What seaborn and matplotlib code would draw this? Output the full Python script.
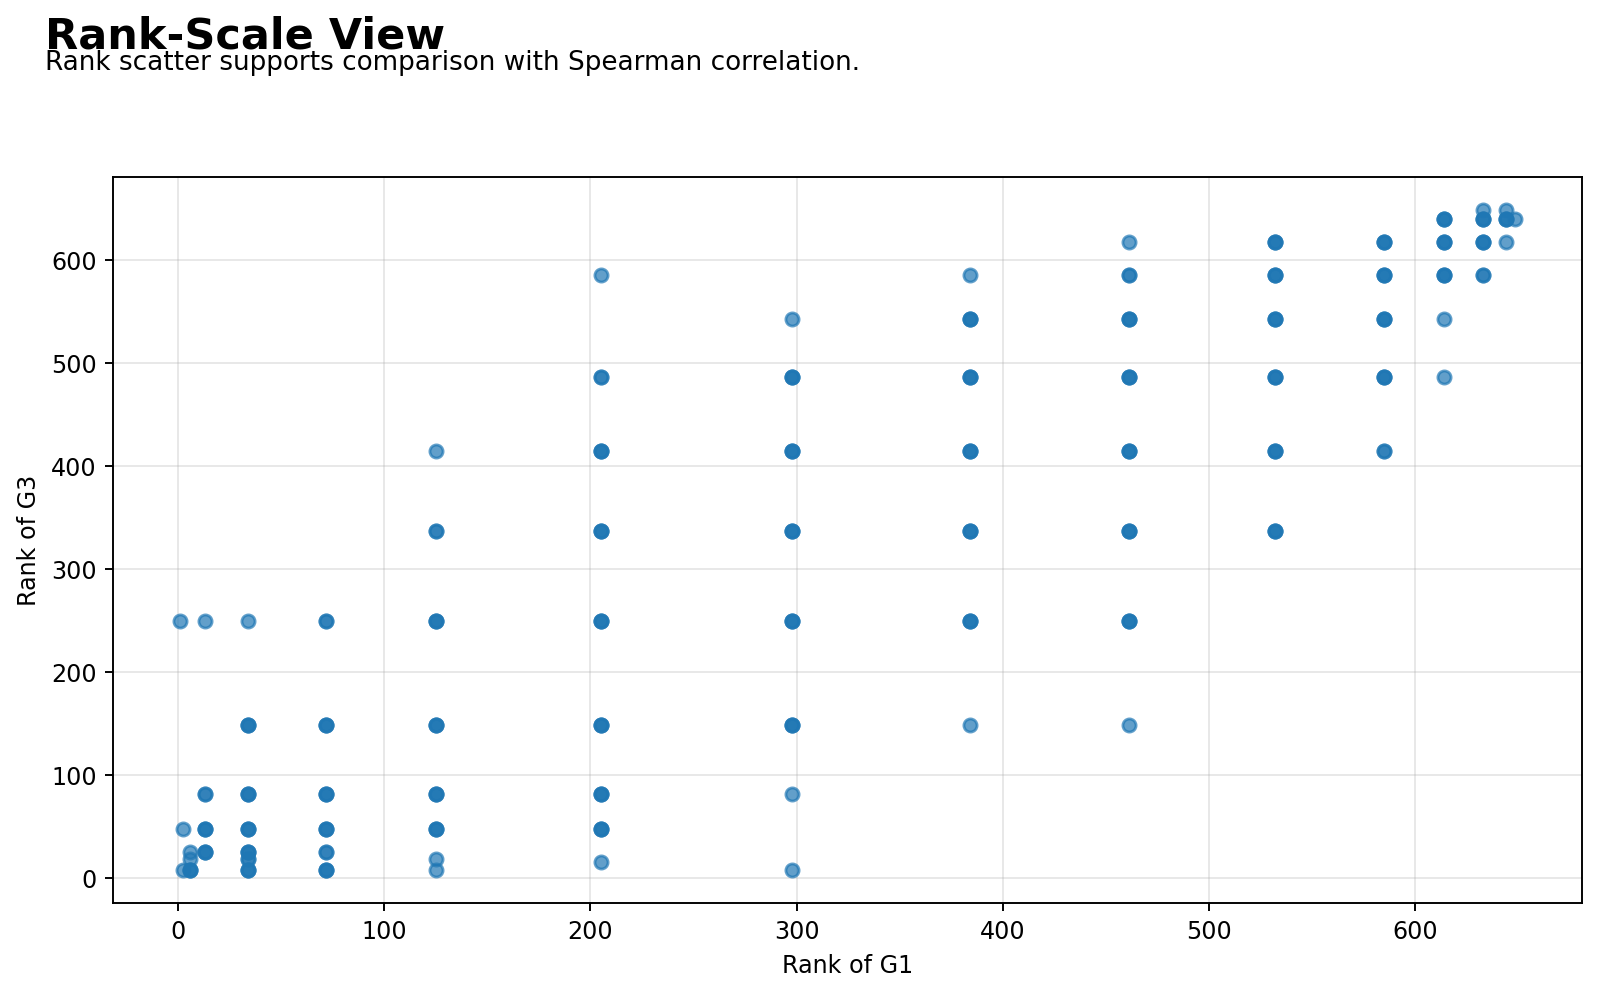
import numpy as np
import pandas as pd
import matplotlib
matplotlib.use("Agg")
import matplotlib.pyplot as plt
import seaborn as sns

# --- 데이터: 순위 좌표 (G1 순위, G3 순위, 겹친 학생 수) ---
rank_g1 = [1,
           2.5, 2.5,
           6, 6, 6,
           13, 13, 13, 13,
           34, 34, 34, 34, 34, 34, 34,
           72, 72, 72, 72, 72, 72,
           125, 125, 125, 125, 125, 125, 125, 125,
           205, 205, 205, 205, 205, 205, 205, 205, 205,
           298, 298, 298, 298, 298, 298, 298, 298,
           384, 384, 384, 384, 384, 384, 384,
           461, 461, 461, 461, 461, 461, 461, 461,
           532, 532, 532, 532, 532, 532,
           585, 585, 585, 585, 585,
           614, 614, 614, 614, 614,
           633, 633, 633, 633,
           644, 644, 644,
           648.5]
rank_g3 = [250,
           48, 8,
           25, 18.5, 8,
           250, 82, 48, 25,
           250, 149, 82, 48, 25, 18.5, 8,
           250, 149, 82, 48, 25, 8,
           415, 337, 250, 149, 82, 48, 18.5, 8,
           586, 487, 415, 337, 250, 149, 82, 48, 16,
           543, 487, 415, 337, 250, 149, 82, 8,
           586, 543, 487, 415, 337, 250, 149,
           618, 586, 543, 487, 415, 337, 250, 149,
           618, 586, 543, 487, 415, 337,
           618, 586, 543, 487, 415,
           640, 618, 586, 543, 487,
           648.5, 640, 618, 586,
           648.5, 640, 618,
           640]
n_students = [1,
              1, 1,
              1, 1, 3,
              1, 2, 3, 3,
              1, 3, 3, 3, 3, 2, 3,
              2, 3, 3, 3, 2, 3,
              1, 2, 3, 3, 3, 3, 1, 1,
              1, 2, 3, 3, 3, 3, 3, 3, 1,
              1, 3, 3, 3, 3, 3, 1, 1,
              1, 3, 3, 3, 3, 3, 1,
              1, 2, 3, 3, 3, 3, 3, 1,
              3, 3, 3, 3, 3, 3,
              3, 3, 3, 3, 2,
              3, 3, 3, 1, 1,
              1, 3, 3, 2,
              1, 3, 1,
              1]

df = pd.DataFrame({
    'G1_rank': np.repeat(rank_g1, n_students),
    'G3_rank': np.repeat(rank_g3, n_students),
})

DPI = 172
fig = plt.figure(figsize=(1600.4 / DPI, 996.4 / DPI), dpi=DPI)
ax = fig.add_axes([0.0708, 0.0934, 0.9177, 0.7283])

sns.scatterplot(data=df, x='G1_rank', y='G3_rank', ax=ax,
                color='#1f77b4', alpha=0.7, s=30, edgecolor='face', linewidth=1.2)

ax.set_xlabel('Rank of G1')
ax.set_ylabel('Rank of G3')
ax.grid(True, alpha=0.3)
ax.set_axisbelow(True)

fig.text(0.028, 0.951, 'Rank-Scale View', fontsize=18, fontweight='bold',
         ha='left', va='baseline')
fig.text(0.028, 0.9294, 'Rank scatter supports comparison with Spearman correlation.',
         fontsize=11, ha='left', va='baseline')

fig.savefig('out.png', dpi=DPI)
